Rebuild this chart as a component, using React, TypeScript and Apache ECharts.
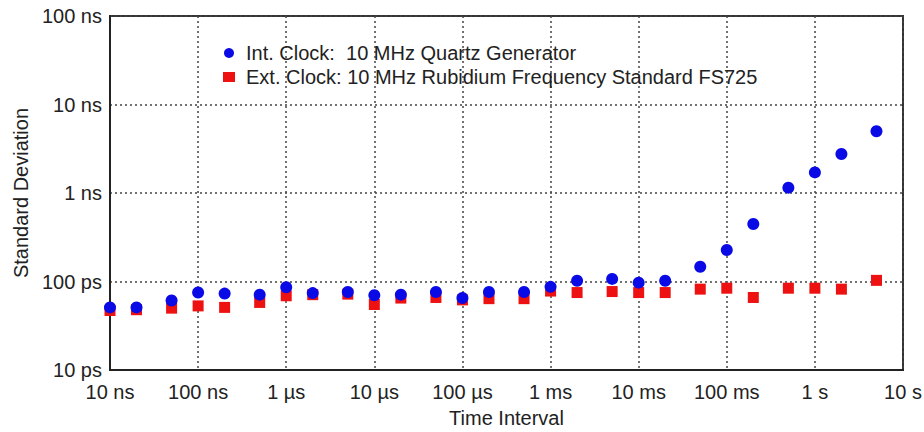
import React, { useEffect, useRef } from "react";
import * as echarts from "echarts";

// Time interval (ns)
const intervalsNs = [
  10, 20, 50, 100, 200, 500, 1e3, 2e3, 5e3, 1e4, 2e4, 5e4, 1e5, 2e5, 5e5,
  1e6, 2e6, 5e6, 1e7, 2e7, 5e7, 1e8, 2e8, 5e8, 1e9, 2e9, 5e9,
];
// Standard deviation (ps), internal quartz clock
const intClockPs = [
  51, 51, 61, 75, 73, 71, 86, 74, 76, 70, 71, 76, 65, 76, 76, 87, 102, 107,
  97, 102, 147, 227, 447, 1150, 1710, 2760, 4980,
];
// Standard deviation (ps), external rubidium clock
const extClockPs = [
  47, 48, 50, 53, 51, 58, 69, 71, 72, 55, 65, 66, 62, 64, 64, 78, 75, 77, 75,
  75, 82, 84, 66, 84, 84, 82, 103,
];

const xTickLabels = [
  "10 ns", "100 ns", "1 µs", "10 µs", "100 µs", "1 ms", "10 ms", "100 ms", "1 s", "10 s",
];
const yTickLabels = ["10 ps", "100 ps", "1 ns", "10 ns", "100 ns"];

const intName = "Int. Clock:  10 MHz Quartz Generator";
const extName = "Ext. Clock: 10 MHz Rubidium Frequency Standard FS725";

const FONT = "'Liberation Sans', Arial, Helvetica, sans-serif";
const FS = 20;

export default function App() {
  const ref = useRef<HTMLDivElement>(null);
  useEffect(() => {
    if (!ref.current) return;
    const chart = echarts.init(ref.current, undefined, { renderer: "svg" });
    const idx = (v: number) => Math.round(Math.log10(v)) - 1;
    chart.setOption({
      animation: false,
      backgroundColor: "#ffffff",
      textStyle: { fontFamily: FONT },
      grid: {
        left: 110,
        right: 21,
        top: 16,
        bottom: 62,
        containLabel: false,
        outerBoundsMode: "none",
        show: true,
        borderColor: "#333",
        borderWidth: 2,
      },
      legend: {
        orient: "vertical",
        left: 218,
        top: 38,
        itemGap: 4,
        itemWidth: 12,
        itemHeight: 10,
        data: [intName, extName],
        textStyle: {
          fontSize: FS,
          color: "#222",
          fontFamily: FONT,
          padding: [0, 0, 0, 6],
        },
      },
      xAxis: {
        type: "log",
        logBase: 10,
        min: 10,
        max: 1e10,
        name: "Time Interval",
        nameLocation: "middle",
        nameGap: 38,
        nameTextStyle: { fontSize: FS, color: "#222", fontFamily: FONT },
        axisLine: { show: true, lineStyle: { color: "#222", width: 2 } },
        axisTick: { show: false },
        minorTick: { show: false },
        axisLabel: {
          fontSize: FS,
          color: "#222",
          margin: 12,
          fontFamily: FONT,
          formatter: (v: number) => xTickLabels[idx(v)] ?? "",
        },
        splitLine: {
          show: true,
          lineStyle: { type: [2, 3], color: "#444", width: 1.5 },
        },
      },
      yAxis: {
        type: "log",
        logBase: 10,
        min: 10,
        max: 1e5,
        name: "Standard Deviation",
        nameLocation: "middle",
        nameGap: 74,
        nameRotate: 90,
        nameTextStyle: { fontSize: FS, color: "#222", fontFamily: FONT },
        axisLine: { show: true, lineStyle: { color: "#222", width: 2 } },
        axisTick: { show: false },
        minorTick: { show: false },
        axisLabel: {
          fontSize: FS,
          color: "#222",
          margin: 8,
          fontFamily: FONT,
          formatter: (v: number) => yTickLabels[idx(v)] ?? "",
        },
        splitLine: {
          show: true,
          lineStyle: { type: [2, 3], color: "#444", width: 1.5 },
        },
      },
      series: [
        {
          name: extName,
          type: "scatter",
          symbol: "rect",
          symbolSize: 11,
          z: 2,
          itemStyle: { color: "#ee1111", opacity: 1 },
          data: intervalsNs.map((x, i) => [x, extClockPs[i]]),
        },
        {
          name: intName,
          type: "scatter",
          symbol: "circle",
          symbolSize: 12,
          z: 3,
          itemStyle: { color: "#0a0ae6", opacity: 1 },
          data: intervalsNs.map((x, i) => [x, intClockPs[i]]),
        },
      ],
    });
    return () => chart.dispose();
  }, []);
  return (
    <div
      ref={ref}
      style={{ position: "absolute", left: 0, top: 0, width: 924, height: 432 }}
    />
  );
}
